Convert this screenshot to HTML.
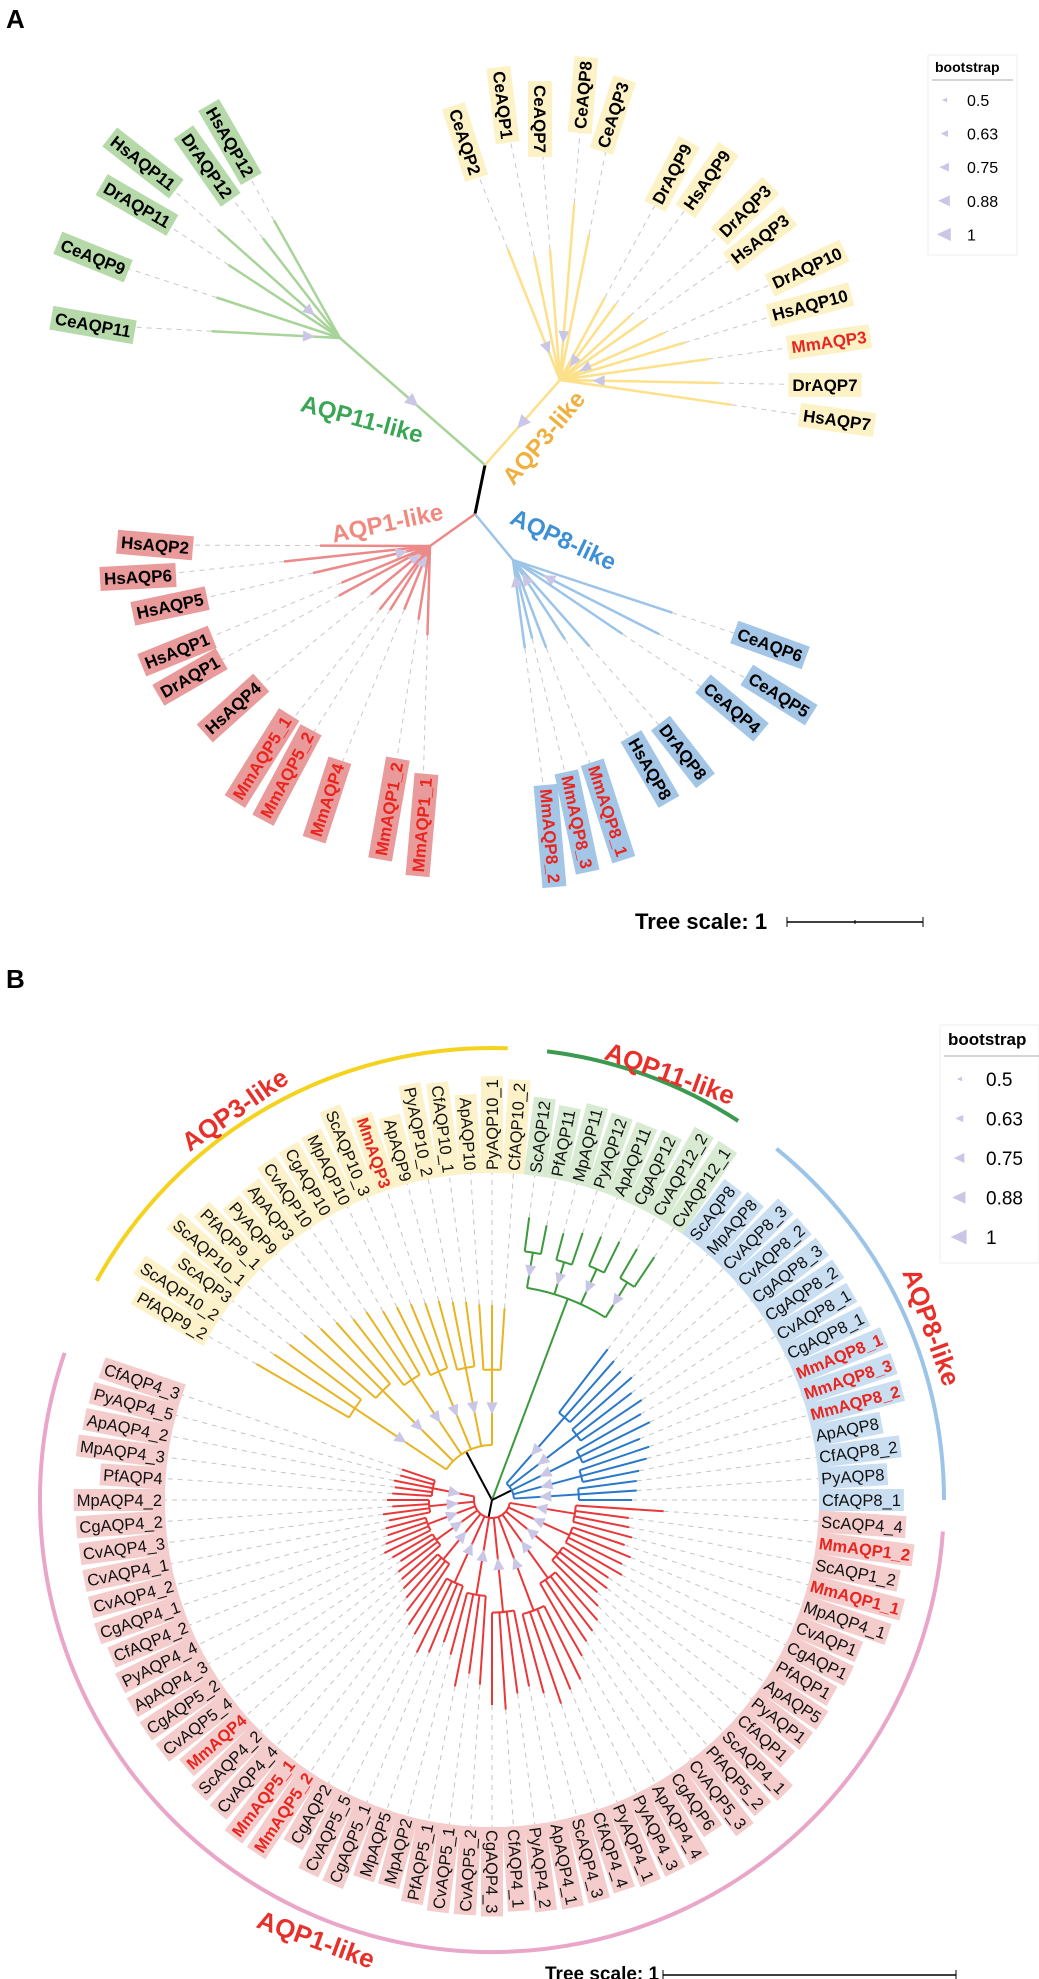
<!DOCTYPE html>
<html><head><meta charset="utf-8"><style>
html,body{margin:0;padding:0;background:#fff;}
svg{display:block;font-family:"Liberation Sans",Arial,sans-serif;}
</style></head><body>
<svg id="fig" width="1039" height="1979" viewBox="0 0 1039 1979" xmlns="http://www.w3.org/2000/svg">
<text x="6" y="28" font-size="26" font-weight="bold">A</text>
<text x="6" y="988" font-size="26" font-weight="bold">B</text>
<g id="panelA"></g>
<g id="panelB"></g>
<!-- legend A -->
<g>
<rect x="928" y="55" width="89" height="200" fill="#fff" stroke="#eee"/>
<text x="935" y="72" font-size="14" font-weight="bold">bootstrap</text>
<line x1="932" y1="80" x2="1013" y2="80" stroke="#aaa"/>
<g id="legA"></g>
</g>
<g>
<text x="635" y="929" font-size="22" font-weight="bold">Tree scale: 1</text>
<line x1="787" y1="922" x2="923" y2="922" stroke="#000" stroke-width="1.5"/>
<line x1="787" y1="917" x2="787" y2="927" stroke="#000"/><line x1="923" y1="917" x2="923" y2="927" stroke="#000"/><line x1="855" y1="920" x2="855" y2="924" stroke="#000"/>
</g>
<!-- legend B -->
<g>
<rect x="940" y="1025" width="99" height="238" fill="#fff" stroke="#eee"/>
<text x="948" y="1045" font-size="17" font-weight="bold">bootstrap</text>
<line x1="944" y1="1056" x2="1039" y2="1056" stroke="#aaa"/>
<g id="legB"></g>
</g>
<g>
<text x="545" y="1980" font-size="19" font-weight="bold">Tree scale: 1</text>
<line x1="663" y1="1975" x2="956" y2="1975" stroke="#000" stroke-width="1.5"/>
<line x1="663" y1="1970" x2="663" y2="1979" stroke="#000"/><line x1="956" y1="1970" x2="956" y2="1979" stroke="#000"/>
</g>
</svg>
<script>
const NS="http://www.w3.org/2000/svg";
// ---------- Panel A data ----------
const aNames=["CeAQP11","CeAQP9","DrAQP11","HsAQP11","DrAQP12","HsAQP12",
"CeAQP2","CeAQP1","CeAQP7","CeAQP8","CeAQP3","DrAQP9","HsAQP9","DrAQP3","HsAQP3","DrAQP10","HsAQP10","MmAQP3","DrAQP7","HsAQP7",
"CeAQP6","CeAQP5","CeAQP4","DrAQP8","HsAQP8","MmAQP8_1","MmAQP8_3","MmAQP8_2",
"HsAQP2","HsAQP6","HsAQP5","HsAQP1","DrAQP1","HsAQP4","MmAQP5_1","MmAQP5_2","MmAQP4","MmAQP1_2","MmAQP1_1"];
const aClade=["g","g","g","g","g","g","y","y","y","y","y","y","y","y","y","y","y","y","y","y","b","b","b","b","b","b","b","b","r","r","r","r","r","r","r","r","r","r","r"];
const aLabelX=[93,93,137,143,207,230,465,503,540,583,613,672,707,745,760,807,810,829,825,837,770,779,732,683,650,608,577,550,155,138,170,177,190,233,262,287,327,389,422];
const aLabelY=[325,257,205,163,166,142,142,105,119,95,115,174,180,211,239,268,305,342,385,420,645,695,708,752,769,811,822,836,545,577,606,651,677,708,758,775,800,809,825];
const aRot=[10,22,30,38,55,60,72,83,90,-85,-72,-62,-55,-45,-38,-25,-15,-8,0,8,20,32,40,52,60,72,78,85,5,-3,-12,-22,-30,-42,-58,-62,-72,-80,-85];
const aBranch=[0.52,0.5,0.55,0.62,0.58,0.6,0.55,0.45,0.5,0.62,0.55,0.4,0.38,0.38,0.42,0.42,0.5,0.55,0.6,0.62,0.62,0.55,0.5,0.45,0.38,0.35,0.3,0.32,0.4,0.5,0.45,0.35,0.38,0.3,0.3,0.28,0.25,0.28,0.32];
const aNodes={g:[340,338],y:[560,380],b:[513,560],r:[430,546]};
const aRootTop=[485,465], aRootBot=[475,514];
const aStroke={g:"#a8d49a",y:"#fde08a",b:"#9cc4e8",r:"#ec8a8a"};
const aFill={g:"#b5d9a8",y:"#fdf1c6",b:"#a3c5e6",r:"#e99a9a"};
const aCladeNames=["AQP11-like","AQP3-like","AQP1-like","AQP8-like"];
const aCladeX=[360,550,389,560],aCladeY=[427,443,531,547],aCladeRot=[15,-50,-12,25];
const aCladeCol=["#3aa655","#f0b040","#f08a80","#3d8fd6"];
const bootVals=["0.5","0.63","0.75","0.88","1"];

const pA=document.getElementById("panelA");
function mk(tag,attrs,parent){const e=document.createElementNS(NS,tag);for(const k in attrs)e.setAttribute(k,attrs[k]);parent.appendChild(e);return e;}
function tri(parent,x,y,ang,s){const a=ang*Math.PI/180;const p=[[x+s*Math.cos(a),y+s*Math.sin(a)],[x-s*0.7*Math.cos(a)-s*0.8*Math.sin(a),y-s*0.7*Math.sin(a)+s*0.8*Math.cos(a)],[x-s*0.7*Math.cos(a)+s*0.8*Math.sin(a),y-s*0.7*Math.sin(a)-s*0.8*Math.cos(a)]];
const t=mk("polygon",{points:p.map(q=>q.join(",")).join(" "),fill:"#c9c6e6"},parent);

return t;}
// root
let rl=mk("line",{x1:aRootTop[0],y1:aRootTop[1],x2:aRootBot[0],y2:aRootBot[1],stroke:"#000","stroke-width":3},pA);


const dashG=mk("g",{},pA), brG=mk("g",{},pA), labG=mk("g",{},pA);
["g","y"].forEach(c=>{const n=aNodes[c];const s=mk("line",{x1:aRootTop[0],y1:aRootTop[1],x2:n[0],y2:n[1],stroke:aStroke[c],"stroke-width":2.5},brG);


tri(brG,(aRootTop[0]+n[0])/2,(aRootTop[1]+n[1])/2,Math.atan2(aRootTop[1]-n[1],aRootTop[0]-n[0])*180/Math.PI,8);});
["b","r"].forEach(c=>{const n=aNodes[c];const s=mk("line",{x1:aRootBot[0],y1:aRootBot[1],x2:n[0],y2:n[1],stroke:aStroke[c],"stroke-width":2.5},brG);

});
aNames.forEach((nm,i)=>{
 const c=aClade[i],n=aNodes[c],lx=aLabelX[i],ly=aLabelY[i];
 const tx=n[0]+(lx-n[0])*aBranch[i],ty=n[1]+(ly-n[1])*aBranch[i];
 const d=mk("line",{x1:tx,y1:ty,x2:lx,y2:ly,stroke:"#c8c8c8","stroke-dasharray":"5,5","stroke-width":1},dashG);
 
 
 const b=mk("line",{x1:n[0],y1:n[1],x2:tx,y2:ty,stroke:aStroke[c],"stroke-width":2.5},brG);
 
 
 if(i%3==0){const ang=Math.atan2(n[1]-ty,n[0]-tx)*180/Math.PI;tri(brG,n[0]+(tx-n[0])*0.25,n[1]+(ty-n[1])*0.25,ang,7);}
 const g=mk("g",{transform:`translate(${lx},${ly}) rotate(${aRot[i]})`},labG);
 
 
 const r=mk("rect",{y:-12,height:24,fill:aFill[c]},g);
 const t=mk("text",{x:0,y:6,"font-size":17,"font-weight":"bold","text-anchor":"middle",fill:nm.startsWith("Mm")?"#e8251f":"#000"},g);
 t.textContent=nm;
 const w=t.getComputedTextLength()+8;r.setAttribute("x",-w/2);r.setAttribute("width",w);
});
aCladeNames.forEach((nm,i)=>{const t=mk("text",{x:aCladeX[i],y:aCladeY[i],"font-size":24,"font-weight":"bold","text-anchor":"middle",fill:aCladeCol[i],transform:`rotate(${aCladeRot[i]} ${aCladeX[i]} ${aCladeY[i]})`},pA);


t.textContent=nm;});
// legend A
const legA=document.getElementById("legA");
bootVals.forEach((v,i)=>{const y=100+i*33.6;tri(legA,945,y,180,3+i*1.3);
const t=mk("text",{x:967,y:y+6,"font-size":16},legA);


t.textContent=v;});
const legB=document.getElementById("legB");
bootVals.forEach((v,i)=>{const y=1079+i*39.5;tri(legB,960,y,180,3+i*1.6);
const t=mk("text",{x:986,y:y+7,"font-size":19},legB);


t.textContent=v;});

// ---------- Panel B data ----------
const yellowNames=["PfAQP9_2","ScAQP10_2","ScAQP3","ScAQP10_1","PfAQP9_1","PyAQP9","ApAQP3","CvAQP10","CgAQP10","MpAQP10","ScAQP10_3","MmAQP3","ApAQP9","PyAQP10_2","CfAQP10_1","ApAQP10","PyAQP10_1","CfAQP10_2"];
const greenNames=["ScAQP12","PfAQP11","MpAQP11","PyAQP12","ApAQP11","CgAQP12","CvAQP12_2","CvAQP12_1"];
const blueNames=["ScAQP8","MpAQP8","CvAQP8_3","CvAQP8_2","CgAQP8_3","CgAQP8_2","CvAQP8_1","CgAQP8_1","MmAQP8_1","MmAQP8_3","MmAQP8_2","ApAQP8","CfAQP8_2","PyAQP8","CfAQP8_1"];
const redNames=["ScAQP4_4","MmAQP1_2","ScAQP1_2","MmAQP1_1","MpAQP4_1","CvAQP1","CgAQP1","PfAQP1","ApAQP5","PyAQP1","CfAQP1","ScAQP4_1","PfAQP5_2","CvAQP5_3","CgAQP6","ApAQP4_4","PyAQP4_3","PyAQP4_1","CfAQP4_4","ScAQP4_3","ApAQP4_1","PyAQP4_2","CfAQP4_1","CgAQP4_3","CvAQP5_2","CvAQP5_1","PfAQP5_1","MpAQP2","MpAQP5","CgAQP5_1","CvAQP5_5","CgAQP2","MmAQP5_2","MmAQP5_1","CvAQP4_4","ScAQP4_2","MmAQP4","CvAQP5_4","CgAQP5_2","ApAQP4_3","PyAQP4_4","CfAQP4_2","CgAQP4_1","CvAQP4_2","CvAQP4_1","CvAQP4_3","CgAQP4_2","MpAQP4_2","PfAQP4","MpAQP4_3","ApAQP4_2","PyAQP4_5","CfAQP4_3"];
const yellowTip=[272,262,255,250,242,236,228,226,218,215,212,208,206,202,200,196,195,192];
const greenTip=[285,280,276,282,285,288,290,292];
const blueTip=[190,185,182,186,176,180,172,176,160,166,160,150,146,145,140];
const redTip=[172,138,140,145,140,150,145,150,140,145,140,150,160,165,170,180,200,205,215,200,190,195,210,205,185,175,190,160,150,165,170,155,150,140,130,125,120,118,110,115,120,115,110,110,105,110,100,105,100,98,100,95,95];
const yellowGroups=[3,3,3,3,3,3];
const greenGroups=[2,2,2,2];
const blueGroups=[3,3,3,3,3];
const redGroups=[4,4,4,4,4,4,4,4,4,4,4,4,5];
const cladeRoot={y:55,g:215,b:22,r:18};
const cx=492,cy=1500,labR=327,arcR=452,angle0=210,stepDeg=3.75;
const bCol={y:"#e8b422",g:"#3c9a3c",b:"#2a78c8",r:"#e8383a"};
const bFill={y:"#fcf1c9",g:"#d8ebd2",b:"#c9def1",r:"#f4cccc"};
const cladeArcs=[["AQP3-like","#f5d21e",-151,-88],["AQP11-like","#3c9a50",-83,-57],["AQP8-like","#9cc4e8",-51,0],["AQP1-like","#eaa6c8",4,199]];
const cladeLabX=[240,667,923,313],cladeLabY=[1117,1082,1330,1948],cladeLabRot=[-35,20,70,20];

const pB=document.getElementById("panelB");
const P=(r,a)=>[cx+r*Math.cos(a*Math.PI/180),cy+r*Math.sin(a*Math.PI/180)];
function arc(r,a1,a2){const p1=P(r,a1),p2=P(r,a2);const large=Math.abs(a2-a1)>180?1:0;return `M${p1[0]},${p1[1]} A${r},${r} 0 ${large} ${a2>a1?1:0} ${p2[0]},${p2[1]}`;}
const bDash=mk("g",{},pB),bBr=mk("g",{},pB),bLab=mk("g",{},pB),bArc=mk("g",{},pB);
let idx=0;
function drawClade(key,names,tips,groups){
 const start=idx;const angs=names.map((_,i)=>angle0+(start+i)*stepDeg);
 const r0=cladeRoot[key];const mean=(angs[0]+angs[angs.length-1])/2;
 const s=P(0,mean),e=P(r0,mean);
 const st=mk("path",{d:`M${cx},${cy} L${e[0]},${e[1]}`,stroke:key=="g"?bCol[key]:"#000","stroke-width":2,fill:"none"},bBr);
 
 
 let k=0;const gcs=[];
 groups.forEach(n=>{
  const ga=angs.slice(k,k+n),gt=tips.slice(k,k+n);
  const gm=(ga[0]+ga[ga.length-1])/2;gcs.push(gm);
  const rMid=r0+(Math.min(...gt)-r0)*0.55;
  const a=P(r0,gm),b=P(rMid,gm);
  mk("path",{d:`M${a[0]},${a[1]} L${b[0]},${b[1]} `+arc(rMid,ga[0],ga[ga.length-1]),stroke:bCol[key],"stroke-width":2,fill:"none"},bBr);
  tri(bBr,P((r0+rMid)/2,gm)[0],P((r0+rMid)/2,gm)[1],gm+180,7);
  ga.forEach((an,j)=>{
   const nm=names[k+j],tip=gt[j];
   const p1=P(rMid,an),p2=P(tip,an),p3=P(labR,an);
   const br=mk("line",{x1:p1[0],y1:p1[1],x2:p2[0],y2:p2[1],stroke:bCol[key],"stroke-width":2},bBr);
   
   
   const dl=mk("line",{x1:p2[0],y1:p2[1],x2:p3[0],y2:p3[1],stroke:"#c4c4c4","stroke-dasharray":"5,5","stroke-width":1},bDash);
   
   
   let na=((an%360)+360)%360;const left=na>90&&na<270;
   const g=mk("g",{transform:`translate(${cx},${cy}) rotate(${an}) translate(${labR},0)`+(left?" rotate(180)":"")},bLab);
   
   
   const rc=mk("rect",{y:-11,height:22,fill:bFill[key]},g);
   const isMm=nm.startsWith("Mm");
   const t=mk("text",{y:6,"font-size":16.5,"font-weight":isMm?"bold":"normal",fill:isMm?"#e8251f":"#111","text-anchor":left?"end":"start",x:left?-3:3},g);
   t.textContent=nm;
   const w=t.getComputedTextLength()+6;rc.setAttribute("width",w);rc.setAttribute("x",left?-w:0);
  });
  k+=n;
 });
 mk("path",{d:arc(r0,gcs[0],gcs[gcs.length-1]),stroke:bCol[key],"stroke-width":2,fill:"none"},bBr);
 idx+=names.length;
}
drawClade("y",yellowNames,yellowTip,yellowGroups);
drawClade("g",greenNames,greenTip,greenGroups);
drawClade("b",blueNames,blueTip,blueGroups);
drawClade("r",redNames,redTip,redGroups);
cladeArcs.forEach((c,i)=>{
 const a=mk("path",{d:arc(arcR,c[2],c[3]),stroke:c[1],"stroke-width":4,fill:"none"},bArc);
 
 
 const t=mk("text",{x:cladeLabX[i],y:cladeLabY[i],"font-size":26,"font-weight":"bold",fill:"#e8302a","text-anchor":"middle",transform:`rotate(${cladeLabRot[i]} ${cladeLabX[i]} ${cladeLabY[i]})`},bArc);
 
 
 t.textContent=c[0];
});
</script>
</body></html>
